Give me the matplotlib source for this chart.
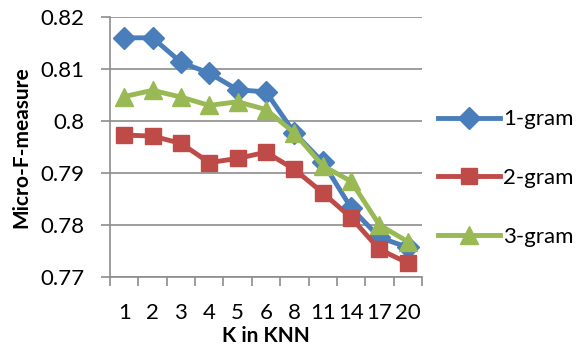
import matplotlib
matplotlib.use("Agg")
import matplotlib.pyplot as plt
import numpy as np

k_labels = ["1", "2", "3", "4", "5", "6", "8", "11", "14", "17", "20"]
gram1 = [0.8160, 0.8160, 0.8113, 0.8092, 0.8060, 0.8056, 0.7977, 0.7921, 0.7833, 0.7776, 0.7757]
gram2 = [0.7973, 0.7971, 0.7957, 0.7920, 0.7928, 0.7940, 0.7907, 0.7862, 0.7814, 0.7753, 0.7727]
gram3 = [0.8047, 0.8059, 0.8046, 0.8030, 0.8037, 0.8022, 0.7977, 0.7914, 0.7884, 0.7800, 0.7768]
yticks = [0.77, 0.78, 0.79, 0.80, 0.81, 0.82]
ytick_labels = ["0.77", "0.78", "0.79", "0.8", "0.81", "0.82"]

plt.rcParams['font.family'] = ['Lato', 'DejaVu Sans']

fig = plt.figure(figsize=(5.79, 3.49), dpi=100)
ax = fig.add_axes([110/579, 72/349, 312/579, 260/349])

x = np.arange(len(k_labels))
ax.plot(x, gram1, color="#4A7EBB", lw=3.5, marker="D", ms=11, label="1-gram", zorder=3)
ax.plot(x, gram2, color="#BE4B48", lw=3.5, marker="s", ms=12, label="2-gram", zorder=3)
ax.plot(x, gram3, color="#98B954", lw=3.5, marker="^", ms=13, label="3-gram", zorder=3)

ax.set_xlim(-0.5, len(k_labels) - 0.5)
ax.set_ylim(0.77, 0.82)
ax.set_yticks(yticks)
ax.set_yticklabels(ytick_labels, fontsize=16)
ax.yaxis.grid(True, color="#8C8C8C", lw=1.2)
ax.set_axisbelow(True)

ax.set_xticks(np.arange(-0.5, len(k_labels), 1.0))
ax.set_xticklabels([])
ax.set_xticks(x, minor=True)
ax.set_xticklabels(k_labels, minor=True, fontsize=16)
ax.tick_params(axis="x", which="major", length=6.5, width=1.2, color="#8C8C8C", direction="out")
ax.tick_params(axis="x", which="minor", length=0, pad=19)
ax.tick_params(axis="y", which="major", length=6.5, width=1.2, color="#8C8C8C", pad=12)

for s in ["top", "right"]:
    ax.spines[s].set_visible(False)
for s in ["left", "bottom"]:
    ax.spines[s].set_color("#8C8C8C")
    ax.spines[s].set_linewidth(1.2)

ax.set_ylabel("Micro-F-measure", fontsize=15, fontweight="bold", labelpad=6)
ax.set_xlabel("K in KNN", fontsize=15, fontweight="bold", labelpad=2)

leg = ax.legend(loc="center left", bbox_to_anchor=(1.0, 0.38), frameon=False, fontsize=16,
                handlelength=2.8, labelspacing=1.75, handletextpad=0.15, borderaxespad=0.3)

fig.savefig("out.png", dpi=100)
